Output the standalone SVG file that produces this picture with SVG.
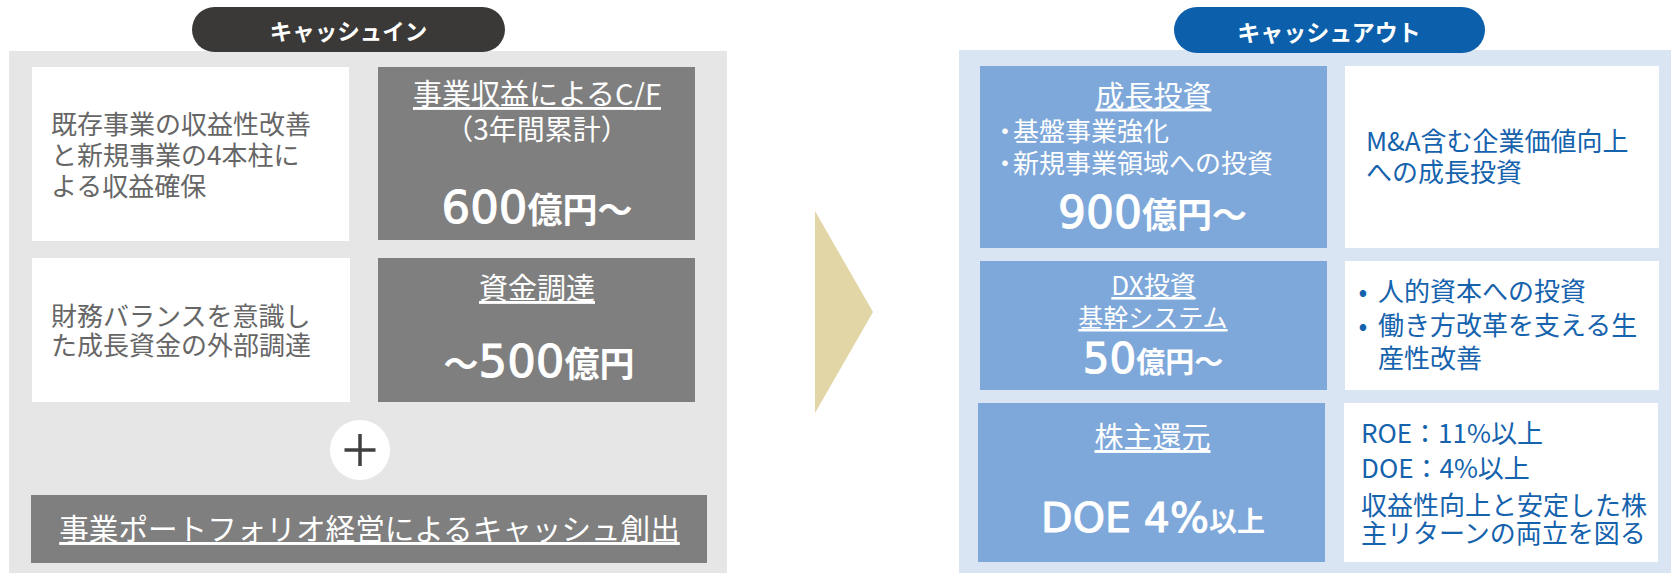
<svg xmlns="http://www.w3.org/2000/svg" width="1671" height="573" viewBox="0 0 1671 573">
<style>
text { font-family: "Noto Sans CJK JP", sans-serif; }
.body { font-size: 26px; fill: #666666; }
.blue { font-size: 26px; fill: #1562ad; }
.head { font-size: 29px; fill: #ffffff; text-decoration: underline; }
.wt { fill: #ffffff; }
.mid { text-anchor: middle; }
.num { font-family: "DejaVu Sans", "Noto Sans CJK JP", sans-serif; font-weight: 400; stroke: #ffffff; stroke-width: 1.1px; }
.kj { font-family: "Noto Sans CJK JP", sans-serif; font-weight: 700; }
.pill { font-size: 22.5px; font-weight: 700; fill: #ffffff; text-anchor: middle; }
.whitebox { fill: #ffffff; }
.graybox { fill: #7f7f7f; }
.bluebox { fill: #7ea8da; }
</style>

<!-- left panel -->
<g id="cash-in-panel">
  <rect x="9" y="51" width="718" height="522" fill="#e6e6e6"/>
</g>
<g id="cash-in-title">
  <rect x="192" y="7" width="313" height="45" rx="22.5" fill="#3b3937"/>
  <text class="pill" x="348.5" y="39.5">キャッシュイン</text>
</g>
<g id="in-desc-1">
  <rect class="whitebox" x="32" y="67" width="317" height="174"/>
  <text class="body" x="51" y="134">既存事業の収益性改善</text>
  <text class="body" x="51" y="165">と新規事業の4本柱に</text>
  <text class="body" x="51" y="195.5">よる収益確保</text>
</g>
<g id="in-cf">
  <rect class="graybox" x="378" y="67" width="317" height="173"/>
  <text class="head mid" x="537" y="105">事業収益によるC/F</text>
  <text class="wt mid" x="537" y="139.5" font-size="28">（3年間累計）</text>
  <text class="wt mid" x="537" y="223"><tspan class="num" font-size="45">600</tspan><tspan class="kj" font-size="35">億円～</tspan></text>
</g>
<g id="in-desc-2">
  <rect class="whitebox" x="32" y="258" width="318" height="144"/>
  <text class="body" x="51" y="326">財務バランスを意識し</text>
  <text class="body" x="51" y="354.5">た成長資金の外部調達</text>
</g>
<g id="in-finance">
  <rect class="graybox" x="378" y="258" width="317" height="144"/>
  <text class="head mid" x="537" y="299">資金調達</text>
  <text class="wt mid" x="539" y="376.5"><tspan class="kj" font-size="35">～</tspan><tspan class="num" font-size="45">500</tspan><tspan class="kj" font-size="35">億円</tspan></text>
</g>
<g id="plus">
  <circle cx="360" cy="450" r="30" fill="#ffffff"/>
  <path d="M344.5 450 H375.5 M360 434 V466" stroke="#404040" stroke-width="3.5" fill="none"/>
</g>
<g id="in-portfolio">
  <rect class="graybox" x="31" y="495" width="676" height="68"/>
  <text class="head mid" x="369.5" y="540" style="font-size:29.6px">事業ポートフォリオ経営によるキャッシュ創出</text>
</g>

<!-- connector arrow -->
<g id="connectors">
  <polygon points="815,211 873,312 815,413" fill="#e2d6a6"/>
</g>

<!-- right panel -->
<g id="cash-out-panel">
  <rect x="959" y="50" width="712" height="523" fill="#dae5f3"/>
</g>
<g id="cash-out-title">
  <rect x="1174" y="7" width="311" height="46" rx="23" fill="#0c5faa"/>
  <text class="pill" x="1329" y="41" style="font-size:23px">キャッシュアウト</text>
</g>
<g id="out-growth">
  <rect class="bluebox" x="980" y="66" width="347" height="182"/>
  <text class="head mid" x="1153.5" y="106.5">成長投資</text>
  <text class="wt" x="992" y="140.5" font-size="26"><tspan>・</tspan><tspan dx="-5">基盤事業強化</tspan></text>
  <text class="wt" x="992" y="173" font-size="26"><tspan>・</tspan><tspan dx="-5">新規事業領域への投資</tspan></text>
  <text class="wt mid" x="1152.5" y="228.3"><tspan class="num" font-size="44">900</tspan><tspan class="kj" font-size="35">億円～</tspan></text>
</g>
<g id="out-growth-desc">
  <rect class="whitebox" x="1345" y="66" width="314" height="182"/>
  <text class="blue" x="1366" y="150.5">M&amp;A含む企業価値向上</text>
  <text class="blue" x="1366" y="182">への成長投資</text>
</g>
<g id="out-dx">
  <rect class="bluebox" x="980" y="261" width="347" height="129"/>
  <text class="head mid" x="1153.5" y="295" style="font-size:26px">DX投資</text>
  <text class="head mid" x="1153" y="327" style="font-size:25px">基幹システム</text>
  <text class="wt mid" x="1153" y="373.3"><tspan class="num" font-size="42">50</tspan><tspan class="kj" font-size="29">億円～</tspan></text>
</g>
<g id="out-dx-desc">
  <rect class="whitebox" x="1345" y="261" width="314" height="129"/>
  <text class="blue mid" x="1363" y="301">•</text>
  <text class="blue" x="1378" y="301">人的資本への投資</text>
  <text class="blue mid" x="1363" y="334.5">•</text>
  <text class="blue" x="1378" y="334.5">働き方改革を支える生</text>
  <text class="blue" x="1378" y="368">産性改善</text>
</g>
<g id="out-return">
  <rect class="bluebox" x="978" y="403" width="347" height="159"/>
  <text class="head mid" x="1152.5" y="448">株主還元</text>
  <text class="wt mid" x="1153" y="531.7"><tspan class="num" font-size="41">DOE 4%</tspan><tspan class="kj" font-size="28">以上</tspan></text>
</g>
<g id="out-return-desc">
  <rect class="whitebox" x="1344" y="403" width="314" height="159"/>
  <text class="blue" x="1361" y="443">ROE：11%以上</text>
  <text class="blue" x="1361" y="478">DOE：4%以上</text>
  <text class="blue" x="1361" y="514.7">収益性向上と安定した株</text>
  <text class="blue" x="1361" y="543">主リターンの両立を図る</text>
</g>
</svg>
